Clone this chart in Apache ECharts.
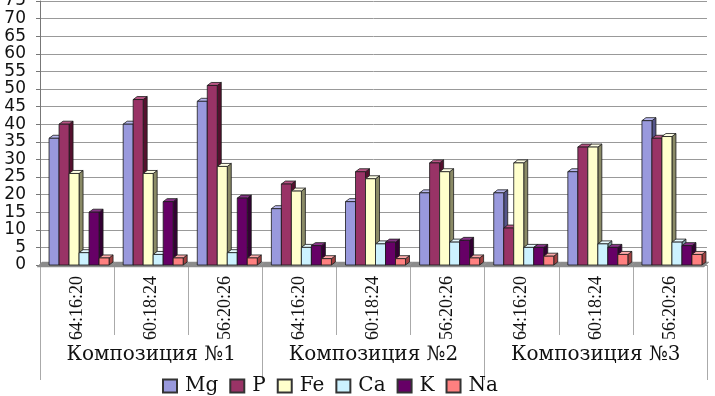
<!DOCTYPE html>
<html>
<head>
<meta charset="utf-8">
<script src="https://cdn.jsdelivr.net/npm/echarts@6/dist/echarts.min.js"></script>
<style>html,body{margin:0;padding:0;background:#fff}#c{width:715px;height:396px}</style>
</head>
<body>
<div id="c"></div>
<script>
const categories = ['64:16:20','60:18:24','56:20:26','64:16:20','60:18:24','56:20:26','64:16:20','60:18:24','56:20:26'];
const groups = ['Композиция №1','Композиция №2','Композиция №3'];
const seriesNames = ['Mg','P','Fe','Ca','K','Na'];
const Mg = [36, 40, 46.5, 16, 18, 20.5, 20.5, 26.5, 41];
const P  = [40, 47, 51, 23, 26.5, 29, 10.5, 33.5, 36];
const Fe = [26, 26, 28, 21, 24.5, 26.5, 29, 33.5, 36.5];
const Ca = [3.5, 3, 3.5, 5, 6, 6.5, 5, 6, 6.5];
const K  = [15, 18, 19, 5.5, 6.5, 7, 5, 5, 5.5];
const Na = [2, 2, 2, 1.8, 1.8, 2, 2.5, 3, 3];
const yTicks = {min: 0, max: 75, interval: 5};

const values = [Mg, P, Fe, Ca, K, Na];
const colors = ['#9999dd','#993366','#ffffcc','#ccf2ff','#660066','#ff8080'];
const sideColors = ['#55558a','#55102e','#8a8a66','#7a9aa0','#330033','#a04040'];
const topColors = ['#b8b8ee','#b85585','#ffffe6','#e6faff','#883388','#ffaaaa'];
const SERIF = 'DejaVu Serif';

const BW = 10, DX = 4, DY = 3;

function make3DRender(s) {
  return function (params, api) {
    const i = api.value(0), v = api.value(1);
    const base = api.coord([i, 0]);
    const top = api.coord([i, v]);
    const x = base[0] - 28 + s * BW;
    const yT = top[1], yB = base[1];
    const stroke = {stroke: '#1a1a1a', lineWidth: 0.8};
    return {
      type: 'group',
      children: [
        {type: 'polygon', shape: {points: [[x + BW, yT], [x + BW + DX, yT - DY], [x + BW + DX, yB - DY], [x + BW, yB]]},
          style: Object.assign({fill: sideColors[s]}, stroke)},
        {type: 'polygon', shape: {points: [[x, yT], [x + DX, yT - DY], [x + BW + DX, yT - DY], [x + BW, yT]]},
          style: Object.assign({fill: topColors[s]}, stroke)},
        {type: 'rect', shape: {x: x, y: yT, width: BW, height: yB - yT},
          style: Object.assign({fill: colors[s]}, stroke)}
      ]
    };
  };
}

const floorRender = function (params, api) {
  const i = api.value(0);
  const c = api.coord([i, 0]);
  const w = api.size([1, 0])[0];
  const x0 = c[0] - w / 2, x1 = c[0] + w / 2;
  const y = c[1];
  return {
    type: 'polygon',
    shape: {points: [[x0 - 3, y + 2], [x0 + 2, y - 3], [x1 + 2, y - 3], [x1 - 3, y + 2]]},
    style: {fill: '#8c8c8c', stroke: '#8c8c8c', lineWidth: 0.5}
  };
};

const series = [{
  type: 'custom', name: 'floor', renderItem: floorRender, silent: true, z: 1,
  data: categories.map((c, i) => [i, 0])
}];
seriesNames.forEach((n, s) => {
  series.push({
    type: 'custom', name: n, renderItem: make3DRender(s), z: 2 + s,
    itemStyle: {color: colors[s], borderColor: '#333', borderWidth: 1},
    data: values[s].map((v, i) => [i, v])
  });
});

const chart = echarts.init(document.getElementById('c'));
chart.setOption({
  animation: false,
  grid: {left: 40, right: 8, top: 1, bottom: 131, containLabel: false, outerBoundsMode: 'none'},
  legend: {
    data: seriesNames, left: 157, top: 371, itemWidth: 14, itemHeight: 13, itemGap: 11,
    icon: 'rect',
    textStyle: {fontFamily: SERIF, fontSize: 20, color: '#111', padding: [0, 0, 0, 3]}
  },
  xAxis: [{
    type: 'category', data: categories, position: 'bottom',
    axisLine: {show: false},
    axisTick: {show: true, length: 70, lineStyle: {color: '#aaa'}},
    axisLabel: {rotate: 90, fontFamily: 'serif', fontSize: 18, color: '#111', margin: 11, interval: 0}
  }, {
    type: 'category', data: groups, position: 'bottom', offset: 0,
    axisLine: {show: false},
    axisTick: {show: true, length: 115, lineStyle: {color: '#aaa'}},
    axisLabel: {fontFamily: SERIF, fontSize: 20, color: '#111', margin: 80, interval: 0}
  }],
  yAxis: {
    type: 'value', min: yTicks.min, max: yTicks.max, interval: yTicks.interval,
    axisLine: {show: true, lineStyle: {color: '#777'}},
    axisTick: {show: true, length: 4, lineStyle: {color: '#777'}},
    axisLabel: {
      margin: 14, showMinLabel: true, showMaxLabel: true,
      formatter: v => '{a|' + v + '}',
      rich: {a: {fontFamily: 'DejaVu Sans', fontSize: 17, color: '#111', height: 10, lineHeight: 10}}
    },
    splitLine: {lineStyle: {color: '#999', width: 1}}
  },
  series: series
});
</script>
</body>
</html>
